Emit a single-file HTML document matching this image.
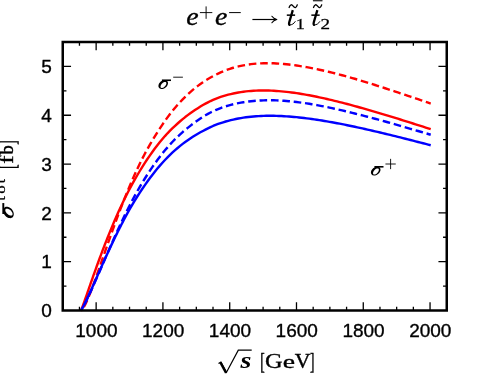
<!DOCTYPE html>
<html><head><meta charset="utf-8"><title>plot</title>
<style>.sans{font-family:"Liberation Sans",sans-serif}.serif{font-family:"Liberation Serif",serif}html,body{margin:0;padding:0;background:#fff}body{width:504px;height:389px;position:relative;overflow:hidden;font-family:"Liberation Sans",sans-serif}</style>
</head><body>
<svg width="504" height="389" viewBox="0 0 504 389" style="position:absolute;left:0;top:0;will-change:transform">
<rect width="504" height="389" fill="#fff"/>
<g fill="none" stroke-width="2.4" stroke-linejoin="round">
<path d="M81.05,310.50 L81.87,309.86 L82.69,308.84 L83.51,307.59 L84.34,306.17 L85.16,304.61 L85.98,302.94 L86.80,301.16 L87.62,299.31 L88.44,297.37 L89.27,295.38 L90.09,293.32 L90.91,291.22 L91.73,289.08 L92.55,286.90 L93.37,284.68 L94.20,282.44 L95.02,280.17 L95.84,277.88 L96.66,275.58 L97.48,273.25 L98.31,270.92 L99.13,268.57 L99.95,266.22 L100.77,263.86 L101.59,261.50 L102.41,259.13 L103.24,256.77 L104.06,254.41 L104.88,252.04 L105.70,249.69 L106.52,247.33 L107.34,244.99 L108.17,242.65 L108.99,240.31 L109.81,237.99 L110.63,235.68 L111.45,233.38 L112.28,231.09 L113.10,228.81 L113.92,226.54 L114.74,224.29 L115.56,222.05 L116.38,219.82 L117.21,217.61 L118.03,215.42 L118.85,213.24 L119.67,211.07 L120.49,208.92 L121.31,206.79 L122.14,204.68 L122.96,202.58 L123.78,200.50 L124.60,198.44 L125.42,196.40 L126.25,194.37 L127.07,192.36 L127.89,190.37 L128.71,188.40 L129.53,186.45 L132.06,180.55 L134.59,174.83 L137.13,169.29 L139.66,163.97 L142.19,158.88 L144.72,154.01 L147.25,149.34 L149.78,144.86 L152.31,140.54 L154.84,136.36 L157.37,132.32 L159.90,128.37 L162.44,124.56 L164.97,120.90 L167.50,117.39 L170.03,114.03 L172.56,110.82 L175.09,107.75 L177.62,104.81 L180.15,102.02 L182.68,99.35 L185.21,96.81 L187.75,94.40 L190.28,92.10 L192.81,89.92 L195.34,87.85 L197.87,85.90 L200.40,84.04 L202.93,82.29 L205.46,80.62 L207.99,79.04 L210.52,77.54 L213.06,76.13 L215.59,74.80 L218.12,73.55 L220.65,72.38 L223.18,71.30 L225.71,70.29 L228.24,69.36 L230.77,68.52 L233.30,67.75 L235.83,67.05 L238.37,66.42 L240.90,65.86 L243.43,65.35 L245.96,64.91 L248.49,64.52 L251.02,64.18 L253.55,63.90 L256.08,63.67 L258.61,63.48 L261.14,63.35 L263.68,63.26 L266.21,63.21 L268.74,63.21 L271.27,63.25 L273.80,63.32 L276.33,63.44 L278.86,63.58 L281.39,63.77 L283.92,63.98 L286.45,64.23 L288.99,64.51 L291.52,64.81 L294.05,65.15 L296.58,65.51 L299.11,65.90 L301.64,66.31 L304.17,66.74 L306.70,67.19 L309.23,67.66 L311.76,68.14 L314.30,68.65 L316.83,69.17 L319.36,69.71 L321.89,70.26 L324.42,70.83 L326.95,71.41 L329.48,72.01 L332.01,72.63 L334.54,73.25 L337.07,73.90 L339.61,74.55 L342.14,75.22 L344.67,75.91 L347.20,76.60 L349.73,77.31 L352.26,78.03 L354.79,78.77 L357.32,79.51 L359.85,80.27 L362.39,81.04 L364.92,81.82 L367.45,82.60 L369.98,83.39 L372.51,84.19 L375.04,84.99 L377.57,85.80 L380.10,86.61 L382.63,87.43 L385.16,88.26 L387.70,89.08 L390.23,89.91 L392.76,90.75 L395.29,91.59 L397.82,92.43 L400.35,93.27 L402.88,94.12 L405.41,94.97 L407.94,95.82 L410.47,96.67 L413.01,97.52 L415.54,98.38 L418.07,99.23 L420.60,100.09 L423.13,100.95 L425.66,101.80 L428.19,102.66 L430.72,103.52" stroke="#ff0000" stroke-dasharray="7.6,3.8" stroke-dashoffset="6.9"/>
<path d="M81.05,310.50 L81.87,308.39 L82.69,306.16 L83.51,303.88 L84.34,301.57 L85.16,299.23 L85.98,296.88 L86.80,294.52 L87.62,292.16 L88.44,289.79 L89.27,287.43 L90.09,285.07 L90.91,282.71 L91.73,280.37 L92.55,278.03 L93.37,275.70 L94.20,273.39 L95.02,271.08 L95.84,268.79 L96.66,266.51 L97.48,264.24 L98.31,261.99 L99.13,259.75 L99.95,257.53 L100.77,255.32 L101.59,253.13 L102.41,250.95 L103.24,248.79 L104.06,246.65 L104.88,244.52 L105.70,242.41 L106.52,240.32 L107.34,238.24 L108.17,236.18 L108.99,234.14 L109.81,232.12 L110.63,230.11 L111.45,228.12 L112.28,226.15 L113.10,224.19 L113.92,222.26 L114.74,220.34 L115.56,218.44 L116.38,216.55 L117.21,214.69 L118.03,212.84 L118.85,211.01 L119.67,209.20 L120.49,207.41 L121.31,205.64 L122.14,203.89 L122.96,202.17 L123.78,200.46 L124.60,198.78 L125.42,197.13 L126.25,195.49 L127.07,193.87 L127.89,192.27 L128.71,190.69 L129.53,189.13 L132.06,184.44 L134.59,179.91 L137.13,175.52 L139.66,171.26 L142.19,167.12 L144.72,163.12 L147.25,159.27 L149.78,155.55 L152.31,151.97 L154.84,148.53 L157.37,145.21 L159.90,142.04 L162.44,138.99 L164.97,136.08 L167.50,133.31 L170.03,130.69 L172.56,128.19 L175.09,125.79 L177.62,123.49 L180.15,121.26 L182.68,119.11 L185.21,117.06 L187.75,115.12 L190.28,113.27 L192.81,111.51 L195.34,109.80 L197.87,108.15 L200.40,106.57 L202.93,105.06 L205.46,103.66 L207.99,102.32 L210.52,101.05 L213.06,99.87 L215.59,98.78 L218.12,97.81 L220.65,96.93 L223.18,96.12 L225.71,95.37 L228.24,94.68 L230.77,94.05 L233.30,93.48 L235.83,92.96 L238.37,92.50 L240.90,92.09 L243.43,91.74 L245.96,91.43 L248.49,91.16 L251.02,90.94 L253.55,90.77 L256.08,90.64 L258.61,90.55 L261.14,90.50 L263.68,90.49 L266.21,90.51 L268.74,90.57 L271.27,90.66 L273.80,90.78 L276.33,90.93 L278.86,91.12 L281.39,91.33 L283.92,91.57 L286.45,91.83 L288.99,92.13 L291.52,92.45 L294.05,92.79 L296.58,93.15 L299.11,93.54 L301.64,93.95 L304.17,94.38 L306.70,94.83 L309.23,95.29 L311.76,95.78 L314.30,96.28 L316.83,96.79 L319.36,97.32 L321.89,97.87 L324.42,98.43 L326.95,99.00 L329.48,99.59 L332.01,100.19 L334.54,100.80 L337.07,101.43 L339.61,102.06 L342.14,102.70 L344.67,103.36 L347.20,104.02 L349.73,104.70 L352.26,105.38 L354.79,106.07 L357.32,106.77 L359.85,107.48 L362.39,108.19 L364.92,108.91 L367.45,109.63 L369.98,110.36 L372.51,111.09 L375.04,111.82 L377.57,112.57 L380.10,113.31 L382.63,114.06 L385.16,114.82 L387.70,115.58 L390.23,116.35 L392.76,117.13 L395.29,117.91 L397.82,118.70 L400.35,119.49 L402.88,120.29 L405.41,121.09 L407.94,121.89 L410.47,122.70 L413.01,123.50 L415.54,124.30 L418.07,125.11 L420.60,125.92 L423.13,126.73 L425.66,127.53 L428.19,128.34 L430.72,129.15" stroke="#ff0000"/>
<path d="M81.05,310.50 L81.87,309.11 L82.69,307.61 L83.51,306.04 L84.34,304.43 L85.16,302.77 L85.98,301.09 L86.80,299.37 L87.62,297.62 L88.44,295.86 L89.27,294.07 L90.09,292.27 L90.91,290.46 L91.73,288.64 L92.55,286.81 L93.37,284.97 L94.20,283.12 L95.02,281.27 L95.84,279.42 L96.66,277.56 L97.48,275.71 L98.31,273.85 L99.13,272.00 L99.95,270.15 L100.77,268.30 L101.59,266.46 L102.41,264.62 L103.24,262.78 L104.06,260.96 L104.88,259.13 L105.70,257.32 L106.52,255.52 L107.34,253.72 L108.17,251.93 L108.99,250.15 L109.81,248.38 L110.63,246.62 L111.45,244.87 L112.28,243.13 L113.10,241.40 L113.92,239.69 L114.74,237.98 L115.56,236.29 L116.38,234.61 L117.21,232.94 L118.03,231.29 L118.85,229.64 L119.67,228.01 L120.49,226.40 L121.31,224.79 L122.14,223.20 L122.96,221.62 L123.78,220.06 L124.60,218.51 L125.42,216.97 L126.25,215.45 L127.07,213.94 L127.89,212.45 L128.71,210.97 L129.53,209.50 L132.06,205.09 L134.59,200.84 L137.13,196.75 L139.66,192.81 L142.19,189.00 L144.72,185.32 L147.25,181.76 L149.78,178.30 L152.31,174.95 L154.84,171.72 L157.37,168.61 L159.90,165.61 L162.44,162.74 L164.97,159.98 L167.50,157.35 L170.03,154.83 L172.56,152.43 L175.09,150.15 L177.62,147.97 L180.15,145.89 L182.68,143.90 L185.21,142.01 L187.75,140.21 L190.28,138.49 L192.81,136.85 L195.34,135.28 L197.87,133.78 L200.40,132.33 L202.93,130.94 L205.46,129.60 L207.99,128.32 L210.52,127.11 L213.06,125.98 L215.59,124.93 L218.12,123.97 L220.65,123.10 L223.18,122.28 L225.71,121.52 L228.24,120.82 L230.77,120.17 L233.30,119.57 L235.83,119.03 L238.37,118.53 L240.90,118.08 L243.43,117.67 L245.96,117.31 L248.49,116.99 L251.02,116.71 L253.55,116.47 L256.08,116.27 L258.61,116.11 L261.14,115.98 L263.68,115.89 L266.21,115.82 L268.74,115.79 L271.27,115.80 L273.80,115.82 L276.33,115.88 L278.86,115.96 L281.39,116.06 L283.92,116.19 L286.45,116.35 L288.99,116.52 L291.52,116.72 L294.05,116.94 L296.58,117.18 L299.11,117.44 L301.64,117.72 L304.17,118.02 L306.70,118.33 L309.23,118.66 L311.76,119.01 L314.30,119.37 L316.83,119.74 L319.36,120.13 L321.89,120.53 L324.42,120.95 L326.95,121.38 L329.48,121.82 L332.01,122.27 L334.54,122.73 L337.07,123.20 L339.61,123.69 L342.14,124.18 L344.67,124.68 L347.20,125.20 L349.73,125.72 L352.26,126.25 L354.79,126.78 L357.32,127.33 L359.85,127.88 L362.39,128.44 L364.92,129.01 L367.45,129.58 L369.98,130.16 L372.51,130.74 L375.04,131.32 L377.57,131.91 L380.10,132.51 L382.63,133.11 L385.16,133.72 L387.70,134.33 L390.23,134.94 L392.76,135.56 L395.29,136.19 L397.82,136.82 L400.35,137.46 L402.88,138.10 L405.41,138.74 L407.94,139.39 L410.47,140.03 L413.01,140.68 L415.54,141.33 L418.07,141.98 L420.60,142.63 L423.13,143.28 L425.66,143.93 L428.19,144.58 L430.72,145.24" stroke="#0000ff"/>
<path d="M81.05,310.50 L81.87,309.10 L82.69,307.64 L83.51,306.13 L84.34,304.58 L85.16,302.99 L85.98,301.36 L86.80,299.70 L87.62,298.02 L88.44,296.30 L89.27,294.56 L90.09,292.80 L90.91,291.02 L91.73,289.22 L92.55,287.41 L93.37,285.58 L94.20,283.73 L95.02,281.88 L95.84,280.01 L96.66,278.14 L97.48,276.26 L98.31,274.37 L99.13,272.48 L99.95,270.58 L100.77,268.68 L101.59,266.78 L102.41,264.87 L103.24,262.97 L104.06,261.07 L104.88,259.17 L105.70,257.27 L106.52,255.38 L107.34,253.49 L108.17,251.60 L108.99,249.72 L109.81,247.84 L110.63,245.98 L111.45,244.11 L112.28,242.26 L113.10,240.41 L113.92,238.58 L114.74,236.75 L115.56,234.93 L116.38,233.12 L117.21,231.32 L118.03,229.53 L118.85,227.75 L119.67,225.98 L120.49,224.22 L121.31,222.48 L122.14,220.75 L122.96,219.02 L123.78,217.32 L124.60,215.62 L125.42,213.94 L126.25,212.27 L127.07,210.61 L127.89,208.97 L128.71,207.34 L129.53,205.72 L132.06,200.84 L134.59,196.12 L137.13,191.56 L139.66,187.14 L142.19,182.88 L144.72,178.75 L147.25,174.76 L149.78,170.88 L152.31,167.13 L154.84,163.52 L157.37,160.03 L159.90,156.68 L162.44,153.45 L164.97,150.35 L167.50,147.37 L170.03,144.52 L172.56,141.78 L175.09,139.17 L177.62,136.67 L180.15,134.28 L182.68,132.02 L185.21,129.86 L187.75,127.81 L190.28,125.83 L192.81,123.93 L195.34,122.06 L197.87,120.23 L200.40,118.47 L202.93,116.81 L205.46,115.29 L207.99,113.86 L210.52,112.52 L213.06,111.27 L215.59,110.10 L218.12,109.03 L220.65,108.05 L223.18,107.14 L225.71,106.31 L228.24,105.55 L230.77,104.85 L233.30,104.22 L235.83,103.64 L238.37,103.12 L240.90,102.65 L243.43,102.23 L245.96,101.85 L248.49,101.51 L251.02,101.21 L253.55,100.96 L256.08,100.74 L258.61,100.57 L261.14,100.43 L263.68,100.33 L266.21,100.27 L268.74,100.25 L271.27,100.26 L273.80,100.30 L276.33,100.37 L278.86,100.48 L281.39,100.62 L283.92,100.78 L286.45,100.97 L288.99,101.19 L291.52,101.43 L294.05,101.70 L296.58,102.00 L299.11,102.32 L301.64,102.66 L304.17,103.02 L306.70,103.40 L309.23,103.80 L311.76,104.22 L314.30,104.66 L316.83,105.11 L319.36,105.58 L321.89,106.07 L324.42,106.57 L326.95,107.09 L329.48,107.61 L332.01,108.16 L334.54,108.71 L337.07,109.27 L339.61,109.85 L342.14,110.44 L344.67,111.03 L347.20,111.64 L349.73,112.26 L352.26,112.88 L354.79,113.51 L357.32,114.15 L359.85,114.80 L362.39,115.45 L364.92,116.11 L367.45,116.77 L369.98,117.43 L372.51,118.10 L375.04,118.78 L377.57,119.45 L380.10,120.14 L382.63,120.83 L385.16,121.52 L387.70,122.22 L390.23,122.93 L392.76,123.64 L395.29,124.36 L397.82,125.08 L400.35,125.82 L402.88,126.55 L405.41,127.29 L407.94,128.03 L410.47,128.78 L413.01,129.52 L415.54,130.26 L418.07,131.01 L420.60,131.76 L423.13,132.50 L425.66,133.25 L428.19,134.00 L430.72,134.75" stroke="#0000ff" stroke-dasharray="7.6,3.8" stroke-dashoffset="4.6"/>
</g>
<path d="M79.45,310.50v-3.7 M79.45,42.00v3.7 M96.14,310.50v-8.3 M96.14,42.00v8.3 M112.84,310.50v-3.7 M112.84,42.00v3.7 M129.53,310.50v-3.7 M129.53,42.00v3.7 M146.23,310.50v-3.7 M146.23,42.00v3.7 M162.92,310.50v-8.3 M162.92,42.00v8.3 M179.62,310.50v-3.7 M179.62,42.00v3.7 M196.32,310.50v-3.7 M196.32,42.00v3.7 M213.01,310.50v-3.7 M213.01,42.00v3.7 M229.71,310.50v-8.3 M229.71,42.00v8.3 M246.40,310.50v-3.7 M246.40,42.00v3.7 M263.10,310.50v-3.7 M263.10,42.00v3.7 M279.79,310.50v-3.7 M279.79,42.00v3.7 M296.49,310.50v-8.3 M296.49,42.00v8.3 M313.18,310.50v-3.7 M313.18,42.00v3.7 M329.88,310.50v-3.7 M329.88,42.00v3.7 M346.58,310.50v-3.7 M346.58,42.00v3.7 M363.27,310.50v-8.3 M363.27,42.00v8.3 M379.97,310.50v-3.7 M379.97,42.00v3.7 M396.66,310.50v-3.7 M396.66,42.00v3.7 M413.36,310.50v-3.7 M413.36,42.00v3.7 M430.05,310.50v-8.3 M430.05,42.00v8.3 M446.75,310.50v-3.7 M446.75,42.00v3.7 M62.75,286.09h3.7 M446.75,286.09h-3.7 M62.75,261.68h8.3 M446.75,261.68h-8.3 M62.75,237.27h3.7 M446.75,237.27h-3.7 M62.75,212.86h8.3 M446.75,212.86h-8.3 M62.75,188.45h3.7 M446.75,188.45h-3.7 M62.75,164.05h8.3 M446.75,164.05h-8.3 M62.75,139.64h3.7 M446.75,139.64h-3.7 M62.75,115.23h8.3 M446.75,115.23h-8.3 M62.75,90.82h3.7 M446.75,90.82h-3.7 M62.75,66.41h8.3 M446.75,66.41h-8.3" stroke="#000" stroke-width="1.3" fill="none"/>
<rect x="62.75" y="42.0" width="384.0" height="268.5" fill="none" stroke="#000" stroke-width="2.5"/>
<g class="sans" font-size="19" fill="#000" stroke="#000" stroke-width="0.35" stroke-linejoin="round">
<text x="75.26" y="336.50">1000</text>
<text x="142.04" y="336.50">1200</text>
<text x="208.82" y="336.50">1400</text>
<text x="275.61" y="336.50">1600</text>
<text x="342.39" y="336.50">1800</text>
<text x="409.17" y="336.50">2000</text>
<text x="41.33" y="317.25">0</text>
<text x="41.33" y="268.43">1</text>
<text x="41.33" y="219.61">2</text>
<text x="41.33" y="170.80">3</text>
<text x="41.33" y="121.98">4</text>
<text x="41.33" y="73.16">5</text>
</g>
<g class="serif" fill="#000">
<text transform="translate(186.24,25.37) scale(0.2790,0.2531)" font-size="100" font-weight="normal" font-style="italic" stroke="#000" stroke-width="1.32" stroke-linejoin="round">e</text>
<path d="M199.90,12.60h12.40M206.10,6.40v12.40" stroke="#000" stroke-width="0.95" fill="none"/>
<text transform="translate(215.04,25.37) scale(0.2790,0.2531)" font-size="100" font-weight="normal" font-style="italic" stroke="#000" stroke-width="1.32" stroke-linejoin="round">e</text>
<path d="M229.10,12.60H240.75" stroke="#000" stroke-width="1.0" fill="none"/>
<path d="M252.40,19.50H276.00" stroke="#000" stroke-width="1.2" fill="none"/>
<path d="M276.8,19.5 C274.8,19.0 272.9,17.8 271.9,16.3 M276.8,19.5 C274.8,20.0 272.9,21.2 271.9,22.7" fill="none" stroke="#000" stroke-width="1.1" stroke-linecap="round"/>
<g transform="translate(286.70,10.00)" fill="none" stroke="#000" stroke-linecap="butt"><path d="M6.1,0.1 L2.55,12.2 C2.0,14.4 2.6,15.0 3.6,14.95" stroke-width="2.3"/><path d="M3.2,14.9 C5.4,15.0 7.2,13.6 8.5,11.6" stroke-width="1.0" stroke-linecap="round"/><path d="M0.1,5.15 H8.4" stroke-width="1.5"/></g>
<path d="M289.10,7.50 C290.19,4.00 291.74,4.17 293.20,6.15 S296.21,8.29 297.30,4.80" stroke="#000" stroke-width="1.3" fill="none" stroke-linecap="round"/>
<text transform="translate(295.86,29.45) scale(0.1816,0.1561)" font-size="100" font-weight="normal" font-style="normal" stroke="#000" stroke-width="1.78" stroke-linejoin="round">1</text>
<g transform="translate(311.25,10.00)" fill="none" stroke="#000" stroke-linecap="butt"><path d="M6.1,0.1 L2.55,12.2 C2.0,14.4 2.6,15.0 3.6,14.95" stroke-width="2.3"/><path d="M3.2,14.9 C5.4,15.0 7.2,13.6 8.5,11.6" stroke-width="1.0" stroke-linecap="round"/><path d="M0.1,5.15 H8.4" stroke-width="1.5"/></g>
<path d="M313.50,7.50 C314.59,4.00 316.14,4.17 317.60,6.15 S320.61,8.29 321.70,4.80" stroke="#000" stroke-width="1.3" fill="none" stroke-linecap="round"/>
<path d="M312.90,0.75H322.50" stroke="#000" stroke-width="1.1" fill="none"/>
<text transform="translate(320.54,29.45) scale(0.1913,0.1509)" font-size="100" font-weight="normal" font-style="normal" stroke="#000" stroke-width="1.75" stroke-linejoin="round">2</text>
<g transform="translate(158.30,79.25) scale(1.0)"><path d="M9.08,2.04 L9.39,2.55 L9.59,3.12 L9.68,3.75 L9.65,4.42 L9.51,5.11 L9.25,5.80 L8.88,6.49 L8.42,7.14 L7.86,7.75 L7.24,8.29 L6.56,8.77 L5.83,9.16 L5.09,9.45 L4.34,9.64 L3.60,9.72 L2.90,9.70 L2.24,9.57 L1.65,9.33 L1.14,8.99 L0.72,8.56 L0.41,8.05 L0.21,7.48 L0.12,6.85 L0.15,6.18 L0.29,5.49 L0.55,4.80 L0.92,4.11 L1.38,3.46 L1.94,2.85 L2.56,2.31 L3.24,1.83 L3.97,1.44 L4.71,1.15 L5.46,0.96 L6.20,0.88 L6.90,0.90 L7.56,1.03 L8.15,1.27 L8.66,1.61Z M7.67,2.99 L7.87,3.24 L8.00,3.55 L8.06,3.91 L8.05,4.31 L7.97,4.75 L7.82,5.21 L7.60,5.69 L7.32,6.16 L6.99,6.62 L6.61,7.06 L6.20,7.47 L5.76,7.83 L5.31,8.14 L4.85,8.39 L4.40,8.58 L3.97,8.69 L3.57,8.73 L3.20,8.70 L2.89,8.59 L2.63,8.41 L2.43,8.16 L2.30,7.85 L2.24,7.49 L2.25,7.09 L2.33,6.65 L2.48,6.19 L2.70,5.71 L2.98,5.24 L3.31,4.78 L3.69,4.34 L4.10,3.93 L4.54,3.57 L4.99,3.26 L5.45,3.01 L5.90,2.82 L6.33,2.71 L6.73,2.67 L7.10,2.70 L7.41,2.81Z" fill="#000" fill-rule="evenodd" stroke="none"/><path d="M3.6,1.0 H12.7" stroke="#000" stroke-width="1.6" fill="none"/></g>
<path d="M173.20,77.20H182.90" stroke="#000" stroke-width="0.9" fill="none"/>
<g transform="translate(370.80,165.80) scale(1.0)"><path d="M9.08,2.04 L9.39,2.55 L9.59,3.12 L9.68,3.75 L9.65,4.42 L9.51,5.11 L9.25,5.80 L8.88,6.49 L8.42,7.14 L7.86,7.75 L7.24,8.29 L6.56,8.77 L5.83,9.16 L5.09,9.45 L4.34,9.64 L3.60,9.72 L2.90,9.70 L2.24,9.57 L1.65,9.33 L1.14,8.99 L0.72,8.56 L0.41,8.05 L0.21,7.48 L0.12,6.85 L0.15,6.18 L0.29,5.49 L0.55,4.80 L0.92,4.11 L1.38,3.46 L1.94,2.85 L2.56,2.31 L3.24,1.83 L3.97,1.44 L4.71,1.15 L5.46,0.96 L6.20,0.88 L6.90,0.90 L7.56,1.03 L8.15,1.27 L8.66,1.61Z M7.67,2.99 L7.87,3.24 L8.00,3.55 L8.06,3.91 L8.05,4.31 L7.97,4.75 L7.82,5.21 L7.60,5.69 L7.32,6.16 L6.99,6.62 L6.61,7.06 L6.20,7.47 L5.76,7.83 L5.31,8.14 L4.85,8.39 L4.40,8.58 L3.97,8.69 L3.57,8.73 L3.20,8.70 L2.89,8.59 L2.63,8.41 L2.43,8.16 L2.30,7.85 L2.24,7.49 L2.25,7.09 L2.33,6.65 L2.48,6.19 L2.70,5.71 L2.98,5.24 L3.31,4.78 L3.69,4.34 L4.10,3.93 L4.54,3.57 L4.99,3.26 L5.45,3.01 L5.90,2.82 L6.33,2.71 L6.73,2.67 L7.10,2.70 L7.41,2.81Z" fill="#000" fill-rule="evenodd" stroke="none"/><path d="M3.6,1.0 H12.7" stroke="#000" stroke-width="1.6" fill="none"/></g>
<path d="M385.45,164.00h10.30M390.60,158.85v10.30" stroke="#000" stroke-width="0.9" fill="none"/>
<path d="M218.5,363.6 L220.9,362.2 L226.5,372.2 L238.3,350.1 H251.7" stroke="#000" stroke-width="1.2" fill="none" stroke-linejoin="miter"/>
<path d="M220.4,362.4 L226.1,372.9" stroke="#000" stroke-width="2.4" fill="none"/>
<text transform="translate(240.39,367.58) scale(0.2800,0.2208)" font-size="100" font-weight="bold" font-style="italic">s</text>
<text transform="translate(260.29,369.28) scale(0.1348,0.2313)" font-size="100" font-weight="normal" font-style="normal" stroke="#000" stroke-width="2.18" stroke-linejoin="round">[</text>
<text transform="translate(264.97,368.19) scale(0.2438,0.2126)" font-size="100" font-weight="normal" font-style="normal" stroke="#000" stroke-width="1.75" stroke-linejoin="round">G</text>
<text transform="translate(282.69,368.21) scale(0.2770,0.1896)" font-size="100" font-weight="normal" font-style="normal" stroke="#000" stroke-width="1.71" stroke-linejoin="round">e</text>
<text transform="translate(294.83,368.09) scale(0.2179,0.2082)" font-size="100" font-weight="normal" font-style="normal" stroke="#000" stroke-width="1.88" stroke-linejoin="round">V</text>
<text transform="translate(309.93,369.28) scale(0.1333,0.2313)" font-size="100" font-weight="normal" font-style="normal" stroke="#000" stroke-width="2.19" stroke-linejoin="round">]</text>
<g transform="rotate(-90)">
<g transform="translate(-218.30,2.10) scale(1.2)"><path d="M9.08,2.04 L9.39,2.55 L9.59,3.12 L9.68,3.75 L9.65,4.42 L9.51,5.11 L9.25,5.80 L8.88,6.49 L8.42,7.14 L7.86,7.75 L7.24,8.29 L6.56,8.77 L5.83,9.16 L5.09,9.45 L4.34,9.64 L3.60,9.72 L2.90,9.70 L2.24,9.57 L1.65,9.33 L1.14,8.99 L0.72,8.56 L0.41,8.05 L0.21,7.48 L0.12,6.85 L0.15,6.18 L0.29,5.49 L0.55,4.80 L0.92,4.11 L1.38,3.46 L1.94,2.85 L2.56,2.31 L3.24,1.83 L3.97,1.44 L4.71,1.15 L5.46,0.96 L6.20,0.88 L6.90,0.90 L7.56,1.03 L8.15,1.27 L8.66,1.61Z M7.67,2.99 L7.87,3.24 L8.00,3.55 L8.06,3.91 L8.05,4.31 L7.97,4.75 L7.82,5.21 L7.60,5.69 L7.32,6.16 L6.99,6.62 L6.61,7.06 L6.20,7.47 L5.76,7.83 L5.31,8.14 L4.85,8.39 L4.40,8.58 L3.97,8.69 L3.57,8.73 L3.20,8.70 L2.89,8.59 L2.63,8.41 L2.43,8.16 L2.30,7.85 L2.24,7.49 L2.25,7.09 L2.33,6.65 L2.48,6.19 L2.70,5.71 L2.98,5.24 L3.31,4.78 L3.69,4.34 L4.10,3.93 L4.54,3.57 L4.99,3.26 L5.45,3.01 L5.90,2.82 L6.33,2.71 L6.73,2.67 L7.10,2.70 L7.41,2.81Z" fill="#000" fill-rule="evenodd" stroke="none"/><path d="M3.6,1.0 H12.7" stroke="#000" stroke-width="1.6" fill="none"/></g>
<text transform="translate(-200.76,4.81) scale(0.1619,0.1426)" font-size="100" font-weight="normal" font-style="normal" stroke="#000" stroke-width="1.97" stroke-linejoin="round">t</text>
<text transform="translate(-193.74,4.82) scale(0.1694,0.1250)" font-size="100" font-weight="normal" font-style="normal" stroke="#000" stroke-width="2.04" stroke-linejoin="round">o</text>
<text transform="translate(-183.25,4.81) scale(0.1505,0.1426)" font-size="100" font-weight="normal" font-style="normal" stroke="#000" stroke-width="2.05" stroke-linejoin="round">t</text>
<text transform="translate(-168.94,14.58) scale(0.1393,0.2313)" font-size="100" font-weight="normal" font-style="normal" stroke="#000" stroke-width="2.16" stroke-linejoin="round">[</text>
<text transform="translate(-163.85,12.70) scale(0.2512,0.1943)" font-size="100" font-weight="normal" font-style="normal" stroke="#000" stroke-width="1.80" stroke-linejoin="round">f</text>
<text transform="translate(-154.40,12.71) scale(0.1827,0.1943)" font-size="100" font-weight="normal" font-style="normal" stroke="#000" stroke-width="2.12" stroke-linejoin="round">b</text>
<text transform="translate(-144.87,14.58) scale(0.1333,0.2313)" font-size="100" font-weight="normal" font-style="normal" stroke="#000" stroke-width="2.19" stroke-linejoin="round">]</text>
</g>
</g>
</svg>
</body></html>
